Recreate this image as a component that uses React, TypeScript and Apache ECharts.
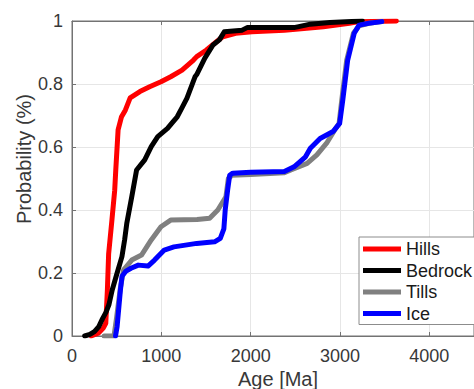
import React, { useEffect, useRef } from "react";
import * as echarts from "echarts";

const seriesNames = ["Hills", "Bedrock", "Tills", "Ice"];
const seriesColors = ["#ff0000", "#000000", "#808080", "#0000ff"];

const xTicks = [0, 1000, 2000, 3000, 4000];
const yTicks = [0, 0.2, 0.4, 0.6, 0.8, 1];

const hills: number[][] = [
  [215, 0], [300, 0.01], [350, 0.025], [378, 0.04], [396, 0.146], [410, 0.26],
  [447, 0.368], [478, 0.463], [490, 0.527], [516, 0.654], [553, 0.695], [597, 0.717],
  [651, 0.756], [760, 0.776], [869, 0.791], [996, 0.807], [1105, 0.823], [1232, 0.844],
  [1360, 0.876], [1396, 0.887], [1505, 0.908], [1600, 0.93], [1687, 0.95], [1832, 0.961],
  [2014, 0.966], [2377, 0.971], [2814, 0.982], [3105, 0.993], [3214, 0.998], [3631, 1.0],
];

const bedrock: number[][] = [
  [142, 0], [200, 0.005], [251, 0.014], [300, 0.03], [342, 0.055], [380, 0.075],
  [414, 0.1], [450, 0.146], [505, 0.2], [559, 0.252], [589, 0.305], [614, 0.359],
  [669, 0.442], [723, 0.527], [814, 0.559], [887, 0.601], [960, 0.633], [1069, 0.659],
  [1130, 0.68], [1178, 0.696], [1232, 0.725], [1287, 0.755], [1377, 0.823], [1396, 0.83],
  [1487, 0.882], [1578, 0.924], [1650, 0.94], [1705, 0.966], [1905, 0.971], [1960, 0.979],
  [2486, 0.979], [2668, 0.99], [2886, 0.995], [3250, 1.0],
];

const tills: number[][] = [
  [360, 0], [470, 0], [500, 0.06], [540, 0.15], [578, 0.21], [669, 0.241],
  [778, 0.257], [887, 0.305], [996, 0.347], [1105, 0.368], [1400, 0.37], [1541, 0.374],
  [1632, 0.4], [1723, 0.442], [1750, 0.5], [1790, 0.51], [2000, 0.513], [2377, 0.518],
  [2450, 0.527], [2632, 0.548], [2741, 0.575], [2850, 0.612], [2941, 0.654], [2990, 0.675],
  [3020, 0.75], [3075, 0.876], [3150, 0.961], [3214, 0.985], [3323, 0.993], [3468, 0.998],
];

const ice: number[][] = [
  [487, 0], [505, 0.03], [542, 0.146], [560, 0.19], [600, 0.205], [660, 0.215],
  [742, 0.225], [851, 0.222], [924, 0.241], [1033, 0.273], [1141, 0.283], [1396, 0.294],
  [1596, 0.299], [1660, 0.31], [1700, 0.34], [1715, 0.4], [1742, 0.463], [1765, 0.51],
  [1800, 0.517], [2000, 0.52], [2377, 0.522], [2486, 0.537], [2614, 0.569], [2668, 0.596],
  [2777, 0.627], [2922, 0.649], [2996, 0.675], [3031, 0.749], [3086, 0.876], [3159, 0.961],
  [3214, 0.987], [3323, 0.993], [3468, 0.998],
];

const allData = [hills, bedrock, tills, ice];

const FONT = "'Liberation Sans', Arial, Helvetica, sans-serif";
const TEXT = "#383838";

export default function App() {
  const ref = useRef<HTMLDivElement>(null);
  useEffect(() => {
    if (!ref.current) return;
    const chart = echarts.init(ref.current, undefined, { renderer: "svg" });
    chart.setOption({
      animation: false,
      backgroundColor: "#ffffff",
      textStyle: { fontFamily: FONT },
      grid: {
        left: 72,
        top: 21,
        right: -11,
        bottom: 53,
        show: true,
        borderColor: "#737373",
        borderWidth: 1,
        backgroundColor: "transparent",
      },
      legend: {
        orient: "vertical",
        left: 359,
        top: 237,
        padding: [3, 12, 2, 4],
        itemGap: 3.5,
        itemWidth: 38,
        itemHeight: 5,
        icon: "rect",
        backgroundColor: "#ffffff",
        borderColor: "#8c8c8c",
        borderWidth: 1,
        textStyle: { fontSize: 18, color: "#1a1a1a", fontFamily: FONT, lineHeight: 18 },
        data: seriesNames,
      },
      xAxis: [
        {
          type: "value",
          min: 0,
          max: 4500,
          interval: 1000,
          axisLine: { show: true, lineStyle: { color: "#737373", width: 1 } },
          axisTick: { show: true, inside: true, length: 4, lineStyle: { color: "#737373" } },
          axisLabel: {
            fontSize: 18,
            color: TEXT,
            margin: 11,
            fontFamily: FONT,
            showMaxLabel: false,
            formatter: (v: number) => (xTicks.includes(v) ? String(v) : ""),
          },
          splitLine: { show: true, lineStyle: { color: "#e6e6e6", width: 1 } },
        },
        {
          type: "value",
          position: "top",
          min: 0,
          max: 4500,
          interval: 1000,
          axisLine: { show: true, lineStyle: { color: "#737373", width: 1 } },
          axisTick: { show: true, inside: true, length: 4, lineStyle: { color: "#737373" } },
          axisLabel: { show: false },
          splitLine: { show: false },
        },
      ],
      yAxis: {
        type: "value",
        min: 0,
        max: 1,
        interval: 0.2,
        axisLine: { show: true, lineStyle: { color: "#737373", width: 1 } },
        axisTick: { show: true, inside: true, length: 4, lineStyle: { color: "#737373" } },
        axisLabel: {
          fontSize: 18,
          color: TEXT,
          margin: 9,
          fontFamily: FONT,
          formatter: (v: number) => {
            const t = yTicks.find((y) => Math.abs(y - v) < 1e-9);
            return t === undefined ? "" : String(t);
          },
        },
        splitLine: { show: true, lineStyle: { color: "#e6e6e6", width: 1 } },
      },
      graphic: [
        {
          type: "text",
          x: 278,
          y: 379,
          style: {
            text: "Age [Ma]",
            fontSize: 20,
            fontFamily: FONT,
            fill: TEXT,
            align: "center",
            verticalAlign: "middle",
          },
        },
        {
          type: "text",
          x: 24,
          y: 159,
          rotation: Math.PI / 2,
          style: {
            text: "Probability (%)",
            fontSize: 20,
            fontFamily: FONT,
            fill: TEXT,
            align: "center",
            verticalAlign: "middle",
          },
        },
      ],
      series: seriesNames.map((name, i) => ({
        name,
        type: "line",
        data: allData[i],
        showSymbol: false,
        symbol: "none",
        color: seriesColors[i],
        lineStyle: { color: seriesColors[i], width: 5, cap: "round", join: "round" },
        z: 2 + i,
      })),
    });
    return () => chart.dispose();
  }, []);
  return (
    <div
      ref={ref}
      style={{ position: "absolute", left: 0, top: 0, width: 474, height: 389 }}
    />
  );
}
